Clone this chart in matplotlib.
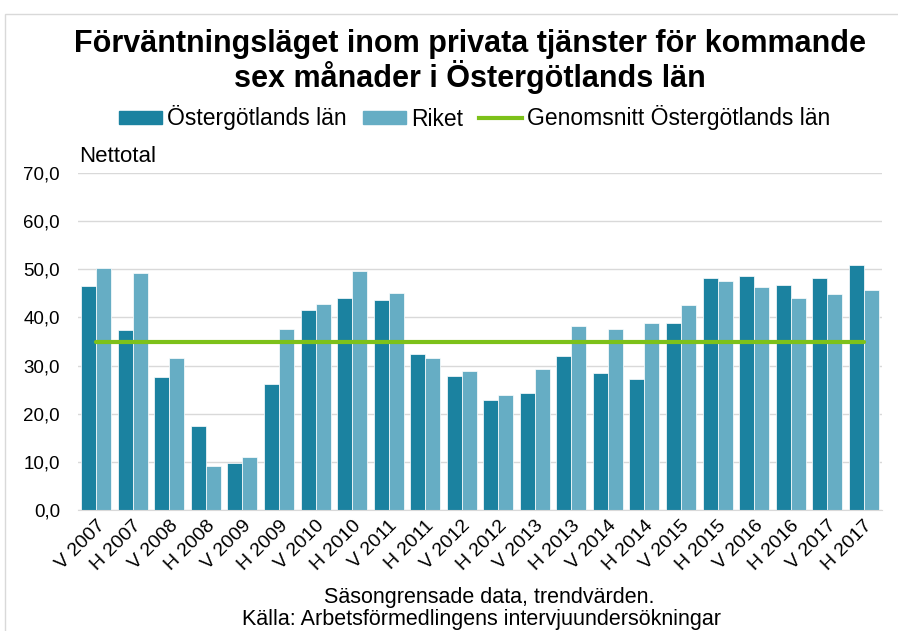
import matplotlib
matplotlib.use("Agg")
import matplotlib.pyplot as plt
import numpy as np
from matplotlib.patches import Patch, Rectangle
from matplotlib.lines import Line2D

plt.rcParams['font.family'] = ['Liberation Sans', 'DejaVu Sans']

categories = ["V 2007", "H 2007", "V 2008", "H 2008", "V 2009", "H 2009", "V 2010", "H 2010",
              "V 2011", "H 2011", "V 2012", "H 2012", "V 2013", "H 2013", "V 2014", "H 2014",
              "V 2015", "H 2015", "V 2016", "H 2016", "V 2017", "H 2017"]
ostergotland = [46.5, 37.4, 27.6, 17.4, 9.8, 26.2, 41.6, 44.0, 43.6, 32.5, 27.8, 22.9,
                24.4, 31.9, 28.4, 27.3, 38.8, 48.2, 48.7, 46.7, 48.2, 50.9]
riket = [50.2, 49.2, 31.5, 9.1, 11.0, 37.7, 42.7, 49.6, 45.1, 31.5, 28.9, 23.8,
         29.3, 38.2, 37.5, 38.8, 42.5, 47.6, 46.3, 44.0, 44.9, 45.6]
genomsnitt = 35.0
yticks = [0, 10, 20, 30, 40, 50, 60, 70]

c_dark = "#1B82A0"
c_light = "#66ADC4"
c_green = "#7DC11A"

W, H = 898, 631
fig = plt.figure(figsize=(W/100, H/100), dpi=100)
ax = fig.add_axes([78/W, 1-510/H, (882-78)/W, (510-173)/H])

x = np.arange(len(categories))
w = 0.41
ax.bar(x - w/2, ostergotland, width=w, color=c_dark, edgecolor="white", linewidth=0.5, zorder=2)
ax.bar(x + w/2, riket, width=w, color=c_light, edgecolor="white", linewidth=0.5, zorder=2)
ax.plot([x[0], x[-1]], [genomsnitt, genomsnitt], color=c_green, linewidth=3, zorder=3,
        solid_capstyle='round')

ax.set_xlim(-0.5, len(categories) - 0.5)
ax.set_ylim(0, 70)
ax.set_yticks(yticks)
ax.set_yticklabels([f"{v:.1f}".replace(".", ",") for v in yticks], fontsize=13.5)
ax.set_xticks(x)
ax.set_xticklabels(categories, rotation=45, ha="right", va="top", rotation_mode="anchor",
                   fontsize=14)
ax.tick_params(axis="y", length=0, pad=13)
ax.tick_params(axis="x", length=0, pad=5)
ax.grid(axis="y", color="#D9D9D9", linewidth=1, zorder=0)
for s in ["top", "right", "left"]:
    ax.spines[s].set_visible(False)
ax.spines["bottom"].set_color("#D9D9D9")
ax.set_axisbelow(True)

fig.text(470/W, 1-52/H, "Förväntningsläget inom privata tjänster för kommande",
         ha="center", va="baseline", fontsize=22, fontweight="bold")
fig.text(470/W, 1-87/H, "sex månader i Östergötlands län",
         ha="center", va="baseline", fontsize=22, fontweight="bold")
fig.text(79/W, 1-162.5/H, "Nettotal", ha="left", va="baseline", fontsize=16)

handles = [Patch(color=c_dark, label="Östergötlands län"),
           Patch(color=c_light, label="Riket"),
           Line2D([0], [0], color=c_green, linewidth=3, label="Genomsnitt Östergötlands län")]
fig.legend(handles=handles, loc="center", bbox_to_anchor=(475/W, 1-118/H), ncol=3,
           frameon=False, fontsize=16.5, handlelength=1.88, handleheight=0.52,
           handletextpad=0.22, columnspacing=0.7, borderpad=0)

fig.text(489/W, 1-603/H, "Säsongrensade data, trendvärden.", ha="center", va="baseline", fontsize=15.5)
fig.text(481/W, 1-625/H, "Källa: Arbetsförmedlingens intervjuundersökningar", ha="center", va="baseline", fontsize=15.5)

fig.patches.append(Rectangle((5/W, -0.1), 2, 1.1 - 14/H, transform=fig.transFigure,
                             fill=False, edgecolor="#D9D9D9", linewidth=1))

fig.savefig("out.png", dpi=100)
